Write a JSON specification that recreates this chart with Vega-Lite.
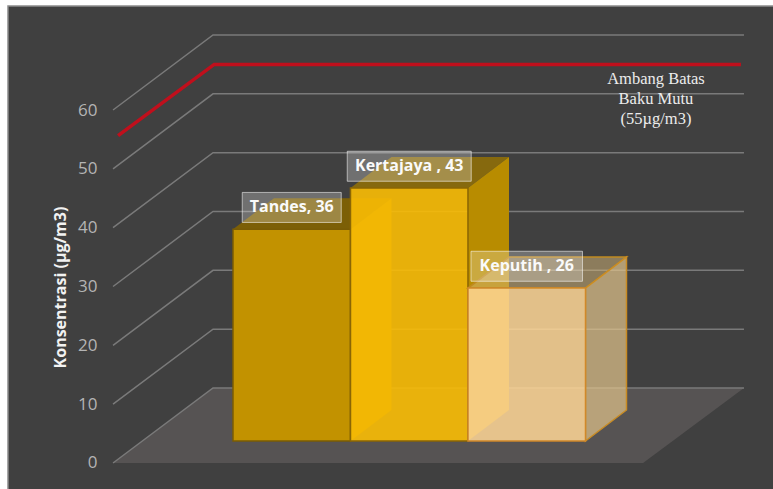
{
"$schema":"https://vega.github.io/schema/vega-lite/v6.json",
"width":773,"height":489,"padding":0,"autosize":{"type":"none"},"background":"#ffffff",
"config":{"view":{"stroke":null}},
"resolve":{"axis":{"y":"independent"}},
"datasets":{
 "bars":[{"site":"Tandes","pos":0,"value":36,"label":"Tandes, 36"},{"site":"Kertajaya","pos":1,"value":43,"label":"Kertajaya , 43"},{"site":"Keputih","pos":2,"value":26,"label":"Keputih , 26"}],
 "grid":[{"tick":0},{"tick":10},{"tick":20},{"tick":30},{"tick":40},{"tick":50},{"tick":60}],
 "limit":[{"value":55}],
 "note":[{"text":"Ambang Batas\nBaku Mutu\n(55µg/m3)"}],
 "one":[{"id":1}]
},
"layer":[
 {"data":{"name":"one"},"mark":{"type":"rect","fill":"#404040","stroke":"#8c8c8c","strokeWidth":1.5},
  "encoding":{
   "x":{"datum":-1.915,"type":"quantitative","scale":{"domain":[-1.983,4.596],"nice":false,"zero":false},"axis":null},
   "x2":{"datum":5},
   "y":{"datum":77.7,"type":"quantitative","scale":{"domain":[-4.42,78.7],"nice":false,"zero":false},
    "axis":{"orient":"left","offset":-101,"zindex":1,"values":[0,10,20,30,40,50,60],"domain":false,"ticks":false,"grid":false,"labelPadding":4,"labelFont":"Open Sans","labelFontSize":17,"labelColor":"#b4b4b4","title":"Konsentrasi (µg/m3)","titleFont":"Open Sans","titleFontWeight":"bold","titleFontSize":16,"titleColor":"#f2f2f2","titleX":-41,"titleY":287,"titleAngle":-90,"titleAlign":"center","titleBaseline":"middle"}},
   "y2":{"datum":-8}}},
 {"data":{"name":"one"},"transform":[{"calculate":"[0,1]","as":"d"},{"flatten":["d"]},
   {"calculate":"-1.021+datum.d*0.851","as":"xa"},{"calculate":"3.49+datum.d*0.859","as":"xb"},{"calculate":"datum.d*12.75","as":"yy"}],
  "mark":{"type":"area","orient":"horizontal","fill":"#565353"},
  "encoding":{
   "y":{"field":"yy","type":"quantitative","scale":{"domain":[-4.42,78.7],"nice":false,"zero":false},"axis":null},
   "x":{"field":"xa","type":"quantitative","scale":{"domain":[-1.983,4.596],"nice":false,"zero":false},"axis":null},
   "x2":{"field":"xb"}}},
 {"data":{"name":"grid"},"transform":[{"calculate":"[0,1,2]","as":"p"},{"flatten":["p"]},
   {"calculate":"datum.p==0?-1.021:(datum.p==1?-0.17:4.349)","as":"xx"},{"calculate":"datum.tick+(datum.p==0?0:12.75)","as":"yy"}],
  "mark":{"type":"line","stroke":"#7a7a7a","strokeWidth":1.5},
  "encoding":{
   "x":{"field":"xx","type":"quantitative","scale":{"domain":[-1.983,4.596],"nice":false,"zero":false},"axis":null},
   "y":{"field":"yy","type":"quantitative","scale":{"domain":[-4.42,78.7],"nice":false,"zero":false},"axis":null},
   "detail":{"field":"tick"},"order":{"field":"p"}}},
 {"data":{"name":"limit"},"transform":[{"calculate":"[0,1,2]","as":"p"},{"flatten":["p"]},
   {"calculate":"datum.p==0?-0.978:(datum.p==1?-0.16:4.323)","as":"xx"},{"calculate":"datum.value+(datum.p==0?0.64:12.75)","as":"yy"}],
  "mark":{"type":"line","stroke":"#c00f1c","strokeWidth":3.5},
  "encoding":{
   "x":{"field":"xx","type":"quantitative","scale":{"domain":[-1.983,4.596],"nice":false,"zero":false},"axis":null},
   "y":{"field":"yy","type":"quantitative","scale":{"domain":[-4.42,78.7],"nice":false,"zero":false},"axis":null},
   "order":{"field":"p"}}},
 {"data":{"name":"note"},"mark":{"type":"text","font":"Liberation Serif","fontSize":16.5,"lineHeight":20,"lineBreak":"\n","align":"center","baseline":"middle","fill":"#ececec"},
  "encoding":{
   "text":{"field":"text"},
   "x":{"datum":3.6,"type":"quantitative","scale":{"domain":[-1.983,4.596],"nice":false,"zero":false},"axis":null},
   "y":{"datum":65.2,"type":"quantitative","scale":{"domain":[-4.42,78.7],"nice":false,"zero":false},"axis":null}}},
 {"data":{"name":"bars"},
  "transform":[{"filter":"datum.site!=='Keputih'"},
   {"calculate":"[0,1]","as":"d"},{"flatten":["d"]},
   {"calculate":"datum.pos+datum.d*0.349","as":"xl"},{"calculate":"datum.pos+1+datum.d*0.349","as":"xr"},
   {"calculate":"3.74+datum.d*5.27","as":"yb"},{"calculate":"datum.value+3.74+datum.d*5.27","as":"yt"}],
  "layer":[
   {"mark":{"type":"area","orient":"horizontal"},
    "encoding":{
     "y":{"field":"yt","type":"quantitative","scale":{"domain":[-4.42,78.7],"nice":false,"zero":false},"axis":null},
     "x":{"field":"xl","type":"quantitative","scale":{"domain":[-1.983,4.596],"nice":false,"zero":false},"axis":null},
     "x2":{"field":"xr"},"detail":{"field":"site"},
     "fill":{"condition":{"test":"datum.site==='Tandes'","value":"#7c5f06"},"value":"#86690e"}}},
   {"mark":{"type":"area","orient":"vertical"},
    "encoding":{
     "x":{"field":"xr","type":"quantitative","scale":{"domain":[-1.983,4.596],"nice":false,"zero":false},"axis":null},
     "y":{"field":"yb","type":"quantitative","scale":{"domain":[-4.42,78.7],"nice":false,"zero":false},"axis":null},
     "y2":{"field":"yt"},"detail":{"field":"site"},
     "fill":{"condition":{"test":"datum.site==='Tandes'","value":"#aa8200"},"value":"#b88c00"}}},
   {"transform":[{"filter":"datum.d===0"}],
    "mark":{"type":"rect","strokeWidth":1.5},
    "encoding":{
     "x":{"field":"xl","type":"quantitative","scale":{"domain":[-1.983,4.596],"nice":false,"zero":false},"axis":null},
     "x2":{"field":"xr"},
     "y":{"field":"yb","type":"quantitative","scale":{"domain":[-4.42,78.7],"nice":false,"zero":false},"axis":null},
     "y2":{"field":"yt"},
     "fill":{"condition":{"test":"datum.site==='Tandes'","value":"#c29200"},"value":"#fabc04"},
     "fillOpacity":{"condition":{"test":"datum.site==='Tandes'","value":1},"value":0.9},
     "stroke":{"condition":{"test":"datum.site==='Tandes'","value":"#7a5c04"},"value":"#8a6604"}}}
  ]},
 {"data":{"name":"bars"},
  "transform":[{"filter":"datum.site==='Keputih'"},
   {"calculate":"[0,1]","as":"d"},{"flatten":["d"]},
   {"calculate":"datum.pos+datum.d*0.349","as":"xl"},{"calculate":"datum.pos+1+datum.d*0.349","as":"xr"},
   {"calculate":"3.74+datum.d*5.27","as":"yb"},{"calculate":"datum.value+3.74+datum.d*5.27","as":"yt"}],
  "layer":[
   {"mark":{"type":"area","orient":"horizontal","fill":"#d8b878","fillOpacity":0.5,"stroke":"#c08a20","strokeWidth":1.5},
    "encoding":{
     "y":{"field":"yt","type":"quantitative","scale":{"domain":[-4.42,78.7],"nice":false,"zero":false},"axis":null},
     "x":{"field":"xl","type":"quantitative","scale":{"domain":[-1.983,4.596],"nice":false,"zero":false},"axis":null},
     "x2":{"field":"xr"}}},
   {"mark":{"type":"area","orient":"vertical","fill":"#e3c58c","fillOpacity":0.7,"stroke":"#c98c24","strokeWidth":1.5},
    "encoding":{
     "x":{"field":"xr","type":"quantitative","scale":{"domain":[-1.983,4.596],"nice":false,"zero":false},"axis":null},
     "y":{"field":"yb","type":"quantitative","scale":{"domain":[-4.42,78.7],"nice":false,"zero":false},"axis":null},
     "y2":{"field":"yt"}}},
   {"transform":[{"filter":"datum.d===0"}],
    "mark":{"type":"rect","fill":"#ffd797","fillOpacity":0.85,"stroke":"#d0882a","strokeWidth":1.5},
    "encoding":{
     "x":{"field":"xl","type":"quantitative","scale":{"domain":[-1.983,4.596],"nice":false,"zero":false},"axis":null},
     "x2":{"field":"xr"},
     "y":{"field":"yb","type":"quantitative","scale":{"domain":[-4.42,78.7],"nice":false,"zero":false},"axis":null},
     "y2":{"field":"yt"}}}
  ]},
 {"data":{"name":"bars"},
  "transform":[
   {"calculate":"datum.pos+0.5","as":"xc"},
   {"calculate":"(36.5+6.25*length(datum.label))/235","as":"hw"},
   {"calculate":"datum.xc-datum.hw","as":"xa"},{"calculate":"datum.xc+datum.hw","as":"xb"},
   {"calculate":"datum.value+7.44","as":"yc"},
   {"calculate":"datum.yc-2.55","as":"ya"},{"calculate":"datum.yc+2.55","as":"yb"}],
  "layer":[
   {"mark":{"type":"rect","fill":"#ffffff","fillOpacity":0.25,"stroke":"#ffffff","strokeOpacity":0.55,"strokeWidth":1},
    "encoding":{
     "x":{"field":"xa","type":"quantitative","scale":{"domain":[-1.983,4.596],"nice":false,"zero":false},"axis":null},
     "x2":{"field":"xb"},
     "y":{"field":"ya","type":"quantitative","scale":{"domain":[-4.42,78.7],"nice":false,"zero":false},"axis":null},
     "y2":{"field":"yb"}}},
   {"mark":{"type":"text","font":"Open Sans","fontWeight":"bold","fontSize":16,"fill":"#fafafa","align":"center","baseline":"middle"},
    "encoding":{
     "x":{"field":"xc","type":"quantitative","scale":{"domain":[-1.983,4.596],"nice":false,"zero":false},"axis":null},
     "y":{"field":"yc","type":"quantitative","scale":{"domain":[-4.42,78.7],"nice":false,"zero":false},"axis":null},
     "text":{"field":"label"}}}
  ]}
]
}
